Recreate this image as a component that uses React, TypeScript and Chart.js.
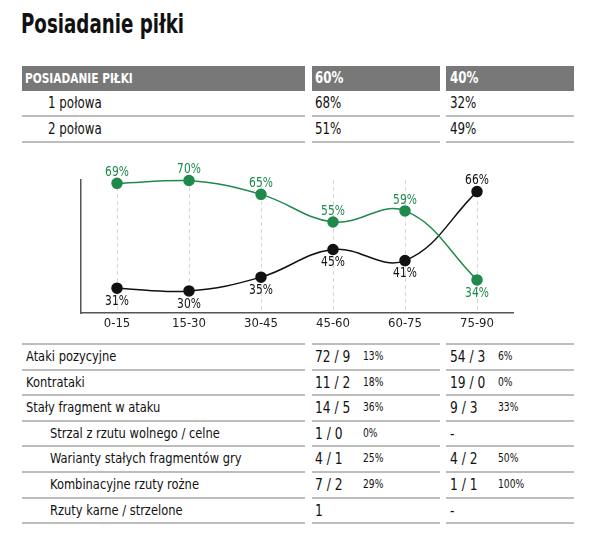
import React, { useEffect, useRef } from "react";
import { Chart, registerables } from "chart.js";

Chart.register(...registerables);

// ---------- DATA ----------
const title = "Posiadanie piłki";
const possessionHeader = "POSIADANIE PIŁKI";
const possessionTotals = ["60%", "40%"];
const halfLabels = ["1 połowa", "2 połowa"];
const halfHome = ["68%", "51%"];
const halfAway = ["32%", "49%"];

const periods = ["0-15", "15-30", "30-45", "45-60", "60-75", "75-90"];
const greenSeries = [69, 70, 65, 55, 59, 34];
const blackSeries = [31, 30, 35, 45, 41, 66];

const statLabels = [
  "Ataki pozycyjne",
  "Kontrataki",
  "Stały fragment w ataku",
  "Strzal z rzutu wolnego / celne",
  "Warianty stałych fragmentów gry",
  "Kombinacyjne rzuty rożne",
  "Rzuty karne / strzelone",
];
const statSub = [false, false, false, true, true, true, true];
const statHome = ["72 / 9", "11 / 2", "14 / 5", "1 / 0", "4 / 1", "7 / 2", "1"];
const statHomePct = ["13%", "18%", "36%", "0%", "25%", "29%", ""];
const statAway = ["54 / 3", "19 / 0", "9 / 3", "-", "4 / 2", "1 / 1", "-"];
const statAwayPct = ["6%", "0%", "33%", "", "50%", "100%", ""];

// ---------- STYLE ----------
const FONT = "'DejaVu Sans Condensed', 'DejaVu Sans', sans-serif";
const GREEN = "#1f8a4c";
const BLACK = "#111111";
const HEADER_BG = "#787878";
const LINE = "#bdbdbd";

const labelPlugin = {
  id: "pointLabels",
  afterDatasetsDraw(chart: any) {
    const ctx = chart.ctx;
    const sets = chart.data.datasets;
    ctx.save();
    ctx.font = `14px ${FONT}`;
    ctx.textAlign = "center";
    ctx.textBaseline = "middle";
    sets.forEach((ds: any, di: number) => {
      const other = sets[1 - di];
      const meta = chart.getDatasetMeta(di);
      meta.data.forEach((pt: any, i: number) => {
        const v = ds.data[i];
        const above = v >= other.data[i];
        ctx.save();
        ctx.fillStyle = ds.borderColor;
        ctx.translate(pt.x, above ? pt.y - 11 : pt.y + 13);
        ctx.scale(0.85, 1);
        ctx.fillText(`${v}%`, 0, 0);
        ctx.restore();
      });
    });
    ctx.restore();
  },
};

function LineChart() {
  const ref = useRef<HTMLCanvasElement>(null);
  useEffect(() => {
    if (!ref.current) return;
    const chart = new Chart(ref.current, {
      type: "line",
      data: {
        labels: periods,
        datasets: [
          {
            data: greenSeries,
            borderColor: GREEN,
            backgroundColor: GREEN,
            pointBackgroundColor: GREEN,
            pointBorderColor: GREEN,
            pointRadius: 5,
            borderWidth: 1.5,
            tension: 0.4,
            clip: false as any,
          },
          {
            data: blackSeries,
            borderColor: BLACK,
            backgroundColor: BLACK,
            pointBackgroundColor: BLACK,
            pointBorderColor: BLACK,
            pointRadius: 5,
            borderWidth: 1.5,
            tension: 0.4,
            clip: false as any,
          },
        ],
      },
      options: {
        responsive: false,
        animation: false,
        layout: { padding: { top: 30, right: 99, left: 0, bottom: 0 } },
        plugins: { legend: { display: false }, tooltip: { enabled: false } },
        scales: {
          x: {
            type: "category",
            offset: true,
            grid: {
              display: true,
              offset: false,
              drawTicks: false,
              color: "#d9d9d9",
              lineWidth: 1,
            },
            border: { display: true, color: "#555", width: 1.5, dash: [4, 3] },
            ticks: {
              padding: 3,
              color: "#222",
              font: { family: FONT, size: 13 },
            },
            afterFit: (s: any) => {
              s.height = 27;
            },
          },
          y: {
            min: 22,
            max: 70.2,
            grid: { display: false },
            border: { display: true, color: "#555", width: 1.5 },
            ticks: { display: false },
            afterFit: (s: any) => {
              s.width = 81;
            },
          },
        },
      },
      plugins: [labelPlugin],
    } as any);
    return () => chart.destroy();
  }, []);
  return (
    <canvas
      ref={ref}
      width={612}
      height={190}
      style={{ position: "absolute", left: 0, top: 150, width: 612, height: 190 }}
    />
  );
}

function Txt(props: {
  x: number;
  y: number;
  h: number;
  size: number;
  sx?: number;
  bold?: boolean;
  color?: string;
  children: React.ReactNode;
}) {
  return (
    <div
      style={{
        position: "absolute",
        left: props.x,
        top: props.y,
        height: props.h,
        lineHeight: props.h + "px",
        fontFamily: FONT,
        fontSize: props.size,
        fontWeight: props.bold ? "bold" : "normal",
        color: props.color || "#111",
        whiteSpace: "nowrap",
        transform: `scaleX(${props.sx ?? 0.88})`,
        transformOrigin: "left center",
      }}
    >
      {props.children}
    </div>
  );
}

export default function App() {
  const colL = { x: 22, w: 283 };
  const colA = { x: 312, w: 128 };
  const colB = { x: 446, w: 128 };
  const rowH = 25.6;
  const statTop = 344;

  const line = (x: number, y: number, w: number, key: string) => (
    <div
      key={key}
      style={{ position: "absolute", left: x, top: y - 1, width: w, height: 2, background: LINE }}
    />
  );

  return (
    <div
      style={{
        position: "absolute",
        left: 0,
        top: 0,
        width: 612,
        height: 547,
        background: "#fff",
        overflow: "hidden",
        fontFamily: FONT,
      }}
    >
      <Txt x={21} y={5} h={38} size={26} bold sx={0.78}>
        {title}
      </Txt>

      {[colL, colA, colB].map((c, i) => (
        <div
          key={"h" + i}
          style={{ position: "absolute", left: c.x, top: 66, width: c.w, height: 25, background: HEADER_BG }}
        />
      ))}
      <Txt x={25} y={66} h={25} size={14} bold sx={0.84} color="#fff">
        {possessionHeader}
      </Txt>
      <Txt x={315} y={66} h={25} size={15} bold sx={0.88} color="#fff">
        {possessionTotals[0]}
      </Txt>
      <Txt x={450} y={66} h={25} size={15} bold sx={0.88} color="#fff">
        {possessionTotals[1]}
      </Txt>

      {halfLabels.map((lab, i) => {
        const top = 91 + i * 25.6;
        return (
          <React.Fragment key={"half" + i}>
            <Txt x={48} y={top} h={25} size={15}>{lab}</Txt>
            <Txt x={315} y={top} h={25} size={15}>{halfHome[i]}</Txt>
            <Txt x={450} y={top} h={25} size={15}>{halfAway[i]}</Txt>
            {line(colL.x, top + 25.3, colL.w, "l1" + i)}
            {line(colA.x, top + 25.3, colA.w, "l2" + i)}
            {line(colB.x, top + 25.3, colB.w, "l3" + i)}
          </React.Fragment>
        );
      })}

      <LineChart />

      {line(colL.x, statTop, colL.w, "st1")}
      {line(colA.x, statTop, colA.w, "st2")}
      {line(colB.x, statTop, colB.w, "st3")}
      {statLabels.map((lab, i) => {
        const top = statTop + i * rowH;
        return (
          <React.Fragment key={"s" + i}>
            <Txt x={statSub[i] ? 50 : 26} y={top} h={rowH} size={14.5}>{lab}</Txt>
            <Txt x={315} y={top} h={rowH} size={16} sx={0.85}>{statHome[i]}</Txt>
            <Txt x={363} y={top} h={rowH} size={12} sx={0.85}>{statHomePct[i]}</Txt>
            <Txt x={450} y={top} h={rowH} size={16} sx={0.85}>{statAway[i]}</Txt>
            <Txt x={498} y={top} h={rowH} size={12} sx={0.85}>{statAwayPct[i]}</Txt>
            {line(colL.x, top + rowH, colL.w, "a" + i)}
            {line(colA.x, top + rowH, colA.w, "b" + i)}
            {line(colB.x, top + rowH, colB.w, "c" + i)}
          </React.Fragment>
        );
      })}
    </div>
  );
}
